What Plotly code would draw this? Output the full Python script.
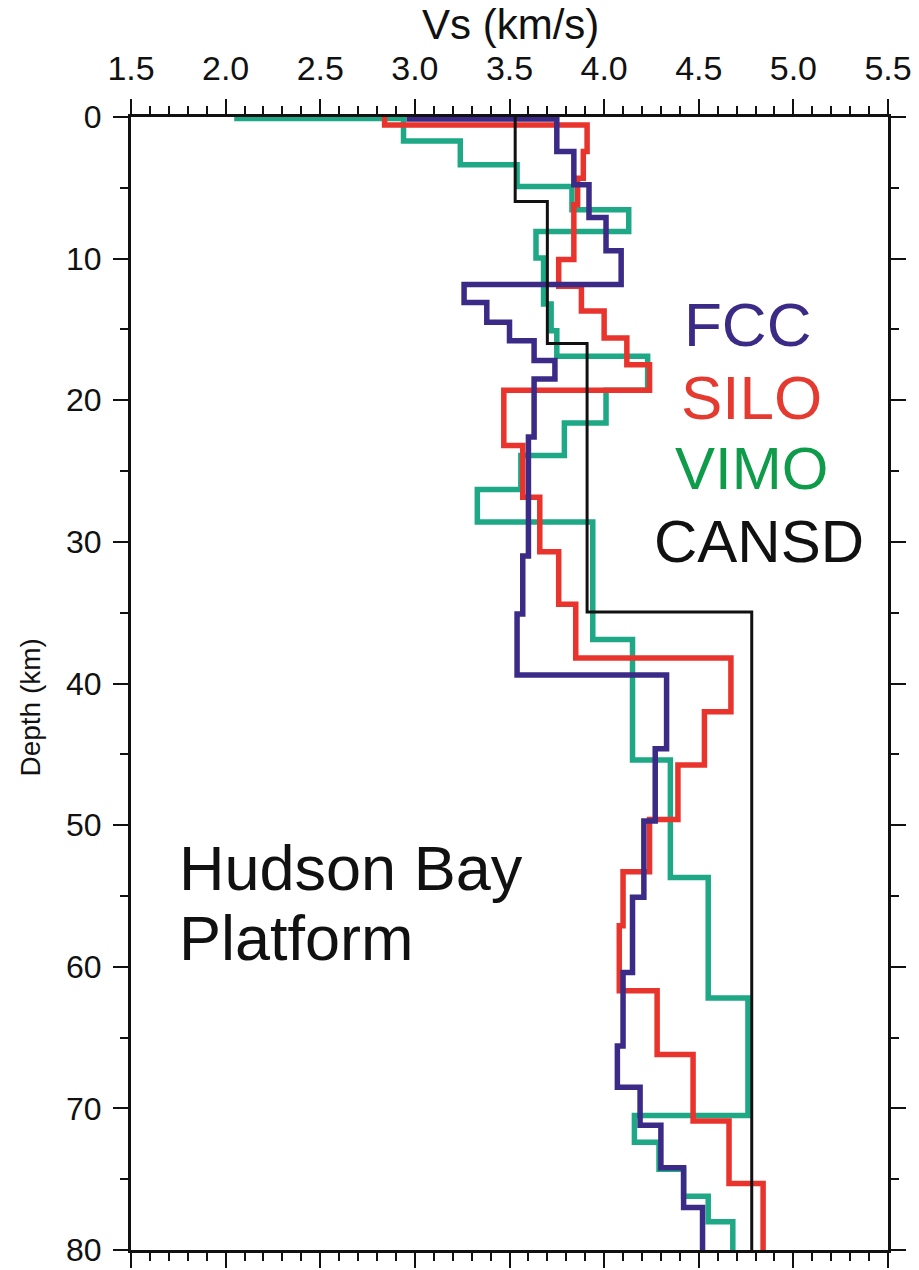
import plotly.graph_objects as go

# Shear-velocity step profiles: layer boundaries (km) and layer Vs (km/s)
fcc_depth = [0, 0.15, 2.44, 4.79, 7.1, 9.44, 11.83, 13.1, 14.5, 15.8, 17.2, 18.5, 22.6,
             31.0, 35.1, 39.4, 44.6, 49.7, 55.1, 60.4, 65.6, 68.5, 71.2, 74.2, 77.0, 80]
fcc_vs = [2.97, 3.75, 3.84, 3.92, 4.01, 4.09, 3.26, 3.38, 3.50, 3.63, 3.74, 3.63, 3.60,
          3.57, 3.54, 4.33, 4.27, 4.21, 4.15, 4.10, 4.07, 4.19, 4.30, 4.42, 4.52]

silo_depth = [0, 0.56, 2.44, 4.32, 6.2, 10.07, 11.95, 13.7, 15.6, 17.5, 19.3, 23.2, 26.85,
              30.7, 34.4, 38.2, 42.0, 45.75, 49.6, 53.3, 57.1, 61.7, 66.2, 70.9, 75.3, 80]
silo_vs = [2.84, 3.91, 3.89, 3.86, 3.84, 3.76, 3.88, 4.00, 4.12, 4.24, 3.47, 3.57, 3.66,
           3.76, 3.85, 4.67, 4.53, 4.39, 4.24, 4.10, 4.08, 4.28, 4.47, 4.66, 4.84]

vimo_depth = [0, 0.1, 1.69, 3.38, 4.9, 6.55, 8.08, 9.95, 13.2, 15.1, 16.9, 19.3, 21.6,
              23.9, 26.3, 28.6, 36.9, 45.4, 53.7, 62.2, 70.5, 72.4, 74.3, 76.2, 78.0, 80]
vimo_vs = [2.06, 2.94, 3.24, 3.54, 3.83, 4.13, 3.64, 3.68, 3.72, 3.75, 4.23, 4.01, 3.79,
           3.56, 3.33, 3.94, 4.15, 4.35, 4.55, 4.76, 4.16, 4.29, 4.42, 4.55, 4.68]

cansd_depth = [0, 5.96, 16.0, 34.95, 80]
cansd_vs = [3.53, 3.70, 3.91, 4.78]

x_ticks = [1.5, 2.0, 2.5, 3.0, 3.5, 4.0, 4.5, 5.0, 5.5]
y_ticks = [0, 10, 20, 30, 40, 50, 60, 70, 80]

FONT = "Liberation Sans, Arial, sans-serif"
INK = "#111111"


def step_profile(depths, vs):
    """Turn layer boundaries and velocities into a staircase polyline."""
    xs, ys = [], []
    for i, v in enumerate(vs):
        xs += [v, v]
        ys += [depths[i], depths[i + 1]]
    return xs, ys


profiles = [
    ("VIMO", vimo_depth, vimo_vs, "#1ea886", 5.5),
    ("SILO", silo_depth, silo_vs, "#e8342c", 5.5),
    ("FCC", fcc_depth, fcc_vs, "#3b2a86", 5.5),
    ("CANSD", cansd_depth, cansd_vs, INK, 3),
]

fig = go.Figure()
for name, d, v, color, width in profiles:
    xs, ys = step_profile(d, v)
    fig.add_trace(go.Scatter(x=xs, y=ys, mode="lines", name=name,
                             line=dict(color=color, width=width),
                             showlegend=False))

# Model names, written in each profile's colour
labels = [
    ("FCC", 4.76, 14.65, "#3b2a86", 62),
    ("SILO", 4.78, 19.8, "#e53a30", 62),
    ("VIMO", 4.78, 24.85, "#0e9b4a", 60),
    ("CANSD", 4.82, 29.95, INK, 60),
]
for text, x, y, color, size in labels:
    fig.add_annotation(x=x, y=y, text=text, showarrow=False,
                       xanchor="center", yanchor="middle",
                       font=dict(family=FONT, size=size, color=color))

for text, y in [("Hudson Bay", 53.0), ("Platform", 58.0)]:
    fig.add_annotation(x=1.765, y=y, text=text, showarrow=False, xshift=-4,
                       xanchor="left", yanchor="middle",
                       font=dict(family=FONT, size=63, color=INK))

# Axis titles
fig.add_annotation(x=3.504, y=1, xref="x", yref="paper", yshift=93,
                   text="Vs (km/s)", showarrow=False,
                   xanchor="center", yanchor="middle",
                   font=dict(family=FONT, size=42, color=INK))
fig.add_annotation(x=0, y=41.7, xref="paper", yref="y", xshift=-100,
                   text="Depth (km)", showarrow=False, textangle=-90,
                   xanchor="center", yanchor="middle",
                   font=dict(family=FONT, size=28, color=INK))

axis_common = dict(
    showline=True, linecolor=INK, linewidth=3, mirror="allticks",
    ticks="outside", ticklen=15, tickwidth=2, tickcolor=INK,
    showgrid=False, zeroline=False, automargin=False,
    ticklabeloverflow="allow",
)

fig.update_xaxes(
    range=[1.5, 5.5], side="top", tickvals=x_ticks, tickformat=".1f",
    minor=dict(dtick=0.1, ticklen=8, tickwidth=1.5, tickcolor=INK, ticks="outside"),
    tickfont=dict(family=FONT, size=34, color=INK),
    ticklabelstandoff=5,
    **axis_common,
)
fig.update_yaxes(
    range=[80, 0], tickvals=y_ticks,
    minor=dict(dtick=5, ticklen=8, tickwidth=1.5, tickcolor=INK, ticks="outside"),
    tickfont=dict(family=FONT, size=32, color=INK),
    ticklabelstandoff=5,
    **axis_common,
)

fig.update_layout(
    width=919, height=1270,
    margin=dict(l=131, r=31, t=117, b=20),
    paper_bgcolor="white", plot_bgcolor="white",
)

fig.write_html("out.html")
